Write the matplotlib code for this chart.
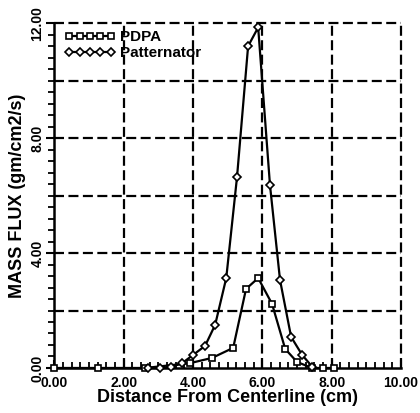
import numpy as np
import matplotlib.pyplot as plt
from matplotlib.ticker import MultipleLocator, FormatStrFormatter

# PDPA (squares)
pdpa_x = [0.0, 1.27, 2.62, 3.92, 4.55, 5.16, 5.53, 5.88, 6.28, 6.66, 7.0, 7.43, 7.75, 8.07]
pdpa_y = [0.0, 0.0, 0.0, 0.17, 0.35, 0.7, 2.75, 3.13, 2.23, 0.66, 0.21, 0.0, 0.0, 0.0]

# Patternator (diamonds)
pat_x = [2.71, 3.05, 3.37, 3.69, 4.0, 4.35, 4.64, 4.96, 5.27, 5.59, 5.88,
         6.22, 6.51, 6.83, 7.15, 7.44]
pat_y = [0.0, 0.0, 0.03, 0.17, 0.45, 0.77, 1.5, 3.13, 6.64, 11.2, 11.85,
         6.37, 3.06, 1.08, 0.45, 0.04]

plt.rcParams['font.family'] = ['Liberation Sans', 'DejaVu Sans']
plt.rcParams['font.weight'] = 'bold'

fig = plt.figure(figsize=(4.2, 4.13), dpi=100)
ax = fig.add_axes([0.129, 0.109, 0.826, 0.835])

ax.plot(pdpa_x, pdpa_y, color='black', lw=1.6, marker='s', ms=5,
        mfc='white', mec='black', mew=1.2, label='PDPA', clip_on=False, zorder=3)
ax.plot(pat_x, pat_y, color='black', lw=1.6, marker='D', ms=4.5,
        mfc='white', mec='black', mew=1.2, label='Patternator', clip_on=False, zorder=3)

ax.set_xlim(0, 10)
ax.set_ylim(0, 12)

ax.xaxis.set_major_locator(MultipleLocator(2))
ax.xaxis.set_minor_locator(MultipleLocator(0.25))
ax.yaxis.set_major_locator(MultipleLocator(4))
ax.yaxis.set_minor_locator(MultipleLocator(0.4))
ax.xaxis.set_major_formatter(FormatStrFormatter('%.2f'))
ax.yaxis.set_major_formatter(FormatStrFormatter('%.2f'))

# dashed grid every 2 units, both directions (also forms top/right border)
for gx in np.arange(2, 10.01, 2):
    ax.axvline(gx, color='black', lw=1.6, ls=(0, (4.5, 2)), zorder=1, clip_on=False)
for gy in np.arange(2, 12.01, 2):
    ax.axhline(gy, color='black', lw=1.6, ls=(0, (4.5, 2)), zorder=1, clip_on=False)

ax.spines['top'].set_visible(False)
ax.spines['right'].set_visible(False)
ax.spines['left'].set_linewidth(1.8)
ax.spines['bottom'].set_linewidth(1.8)

ax.tick_params(axis='x', which='major', direction='in', length=6, width=1.5,
               labelsize=10, pad=6)
ax.tick_params(axis='x', which='minor', direction='in', length=4, width=1.3)
ax.tick_params(axis='y', which='major', direction='out', length=6, width=1.5,
               labelsize=10, pad=1)
ax.tick_params(axis='y', which='minor', direction='out', length=4, width=1.3)
for lab in ax.get_yticklabels():
    lab.set_rotation(90)
    lab.set_va('center')

ax.set_xlabel('Distance From Centerline (cm)', fontsize=13, fontweight='bold',
              labelpad=-1)
ax.set_ylabel('MASS FLUX (gm/cm2/s)', fontsize=13, fontweight='bold',
              labelpad=3)

ax.legend(loc='upper left', bbox_to_anchor=(0.0, 1.01), frameon=False,
          numpoints=5, handlelength=3.3, handletextpad=0.3, fontsize=11,
          borderaxespad=0.3, labelspacing=0.1)

fig.savefig('out.png', dpi=100)
